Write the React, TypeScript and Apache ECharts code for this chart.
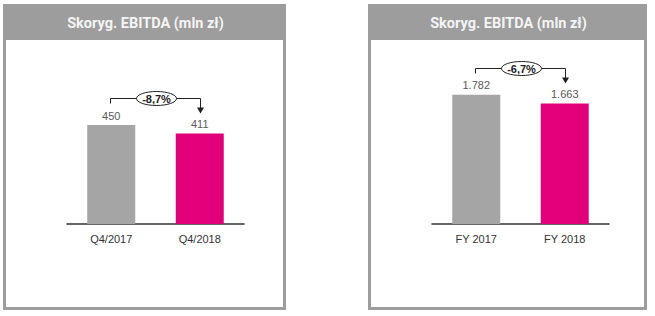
import React, { useEffect, useRef } from "react";
import * as echarts from "echarts";

const title = "Skoryg. EBITDA (mln zł)";
const categoriesQ = ["Q4/2017", "Q4/2018"];
const valuesQ = [450, 411];
const categoriesFY = ["FY 2017", "FY 2018"];
const valuesFY = [1782, 1663];
const barColors = ["#a5a5a5", "#e2007a"];

const fmtNum = (v: number) =>
  String(Math.round(v)).replace(/\B(?=(\d{3})+(?!\d))/g, ".");
const fmtPct = (a: number, b: number) =>
  (((b / a) - 1) * 100).toFixed(1).replace(".", ",") + "%";

export default function App() {
  const ref = useRef<HTMLDivElement>(null);
  useEffect(() => {
    if (!ref.current) return;
    const chart = echarts.init(ref.current, null, { renderer: "svg" });
    const panelGray = "#9d9d9d";
    const panels = [
      { x: 3, w: 283 },
      { x: 368, w: 279 },
    ];
    const panelGraphics: any[] = [];
    panels.forEach((p) => {
      panelGraphics.push({
        type: "rect",
        shape: { x: p.x + 1.5, y: 5.5, width: p.w - 3, height: 303 },
        style: { fill: "#ffffff", stroke: panelGray, lineWidth: 3 },
        z: 0,
      });
      panelGraphics.push({
        type: "rect",
        shape: { x: p.x, y: 4, width: p.w, height: 36 },
        style: { fill: panelGray },
        z: 1,
      });
      panelGraphics.push({
        type: "text",
        x: p.x + p.w / 2 + 1,
        y: 23.5,
        style: {
          text: title,
          fill: "#f4f4f4",
          font: "bold 14.5px Roboto",
          align: "center",
          verticalAlign: "middle",
        },
        z: 2,
      });
    });

    const mkSeries = (vals: number[], idx: number) => ({
      type: "bar",
      xAxisIndex: idx,
      yAxisIndex: idx,
      barWidth: 48,
      data: vals.map((v, i) => ({ value: v, itemStyle: { color: barColors[i] } })),
      label: {
        show: true,
        position: "top",
        distance: 4,
        color: "#5a5a5a",
        fontSize: 11,
        fontFamily: "Liberation Sans",
        formatter: (p: any) => fmtNum(p.value),
      },
      z: 3,
    });
    const xAx = (cats: string[], gi: number) => ({
      type: "category",
      gridIndex: gi,
      data: cats,
      axisTick: { show: false },
      axisLine: { lineStyle: { color: "#333", width: 1.5 } },
      axisLabel: {
        color: "#333",
        fontSize: 11,
        fontFamily: "Liberation Sans",
        margin: 9,
      },
    });
    const yAx = (gi: number, max: number) => ({
      type: "value",
      gridIndex: gi,
      min: 0,
      max,
      show: false,
      splitLine: { show: false },
    });

    chart.setOption({
      animation: false,
      backgroundColor: "#ffffff",
      grid: [
        { left: 67, width: 177, top: 92, height: 132 },
        { left: 432, width: 177, top: 50, height: 174 },
      ],
      xAxis: [xAx(categoriesQ, 0), xAx(categoriesFY, 1)],
      yAxis: [yAx(0, 600), yAx(1, 2400)],
      series: [mkSeries(valuesQ, 0), mkSeries(valuesFY, 1)],
      graphic: panelGraphics,
    });

    const bracket = (cats: string[], vals: number[], gi: number) => {
      const p0 = chart.convertToPixel({ xAxisIndex: gi, yAxisIndex: gi }, [cats[0], vals[0]]) as number[];
      const p1 = chart.convertToPixel({ xAxisIndex: gi, yAxisIndex: gi }, [cats[1], vals[1]]) as number[];
      const x0 = Math.round(p0[0]) - 0.5;
      const x1 = Math.round(p1[0]) + 0.5;
      const yb = Math.round(p0[1] - 27) + 0.5;
      const tip = p1[1] - 20;
      const mid = (x0 + x1) / 2 + 1;
      const st = { stroke: "#222", lineWidth: 1, fill: "none" };
      return [
        {
          type: "polyline",
          shape: { points: [[x0, yb + 5], [x0, yb], [x1, yb], [x1, tip - 5]] },
          style: st,
          z: 5,
        },
        {
          type: "polygon",
          shape: { points: [[x1 - 3.5, tip - 6], [x1 + 3.5, tip - 6], [x1, tip]] },
          style: { fill: "#222" },
          z: 5,
        },
        {
          type: "ellipse",
          shape: { cx: mid, cy: yb, rx: 20, ry: 7 },
          style: { fill: "#fff", stroke: "#222", lineWidth: 1 },
          z: 6,
        },
        {
          type: "text",
          x: mid,
          y: yb + 0.5,
          style: {
            text: fmtPct(vals[0], vals[1]),
            fill: "#222",
            font: "bold 11px Liberation Sans",
            align: "center",
            verticalAlign: "middle",
          },
          z: 7,
        },
      ];
    };

    chart.setOption({
      graphic: [
        ...panelGraphics,
        ...bracket(categoriesQ, valuesQ, 0),
        ...bracket(categoriesFY, valuesFY, 1),
      ],
    });

    return () => chart.dispose();
  }, []);
  return (
    <div
      ref={ref}
      style={{ position: "fixed", left: 0, top: 0, width: 655, height: 316 }}
    />
  );
}
